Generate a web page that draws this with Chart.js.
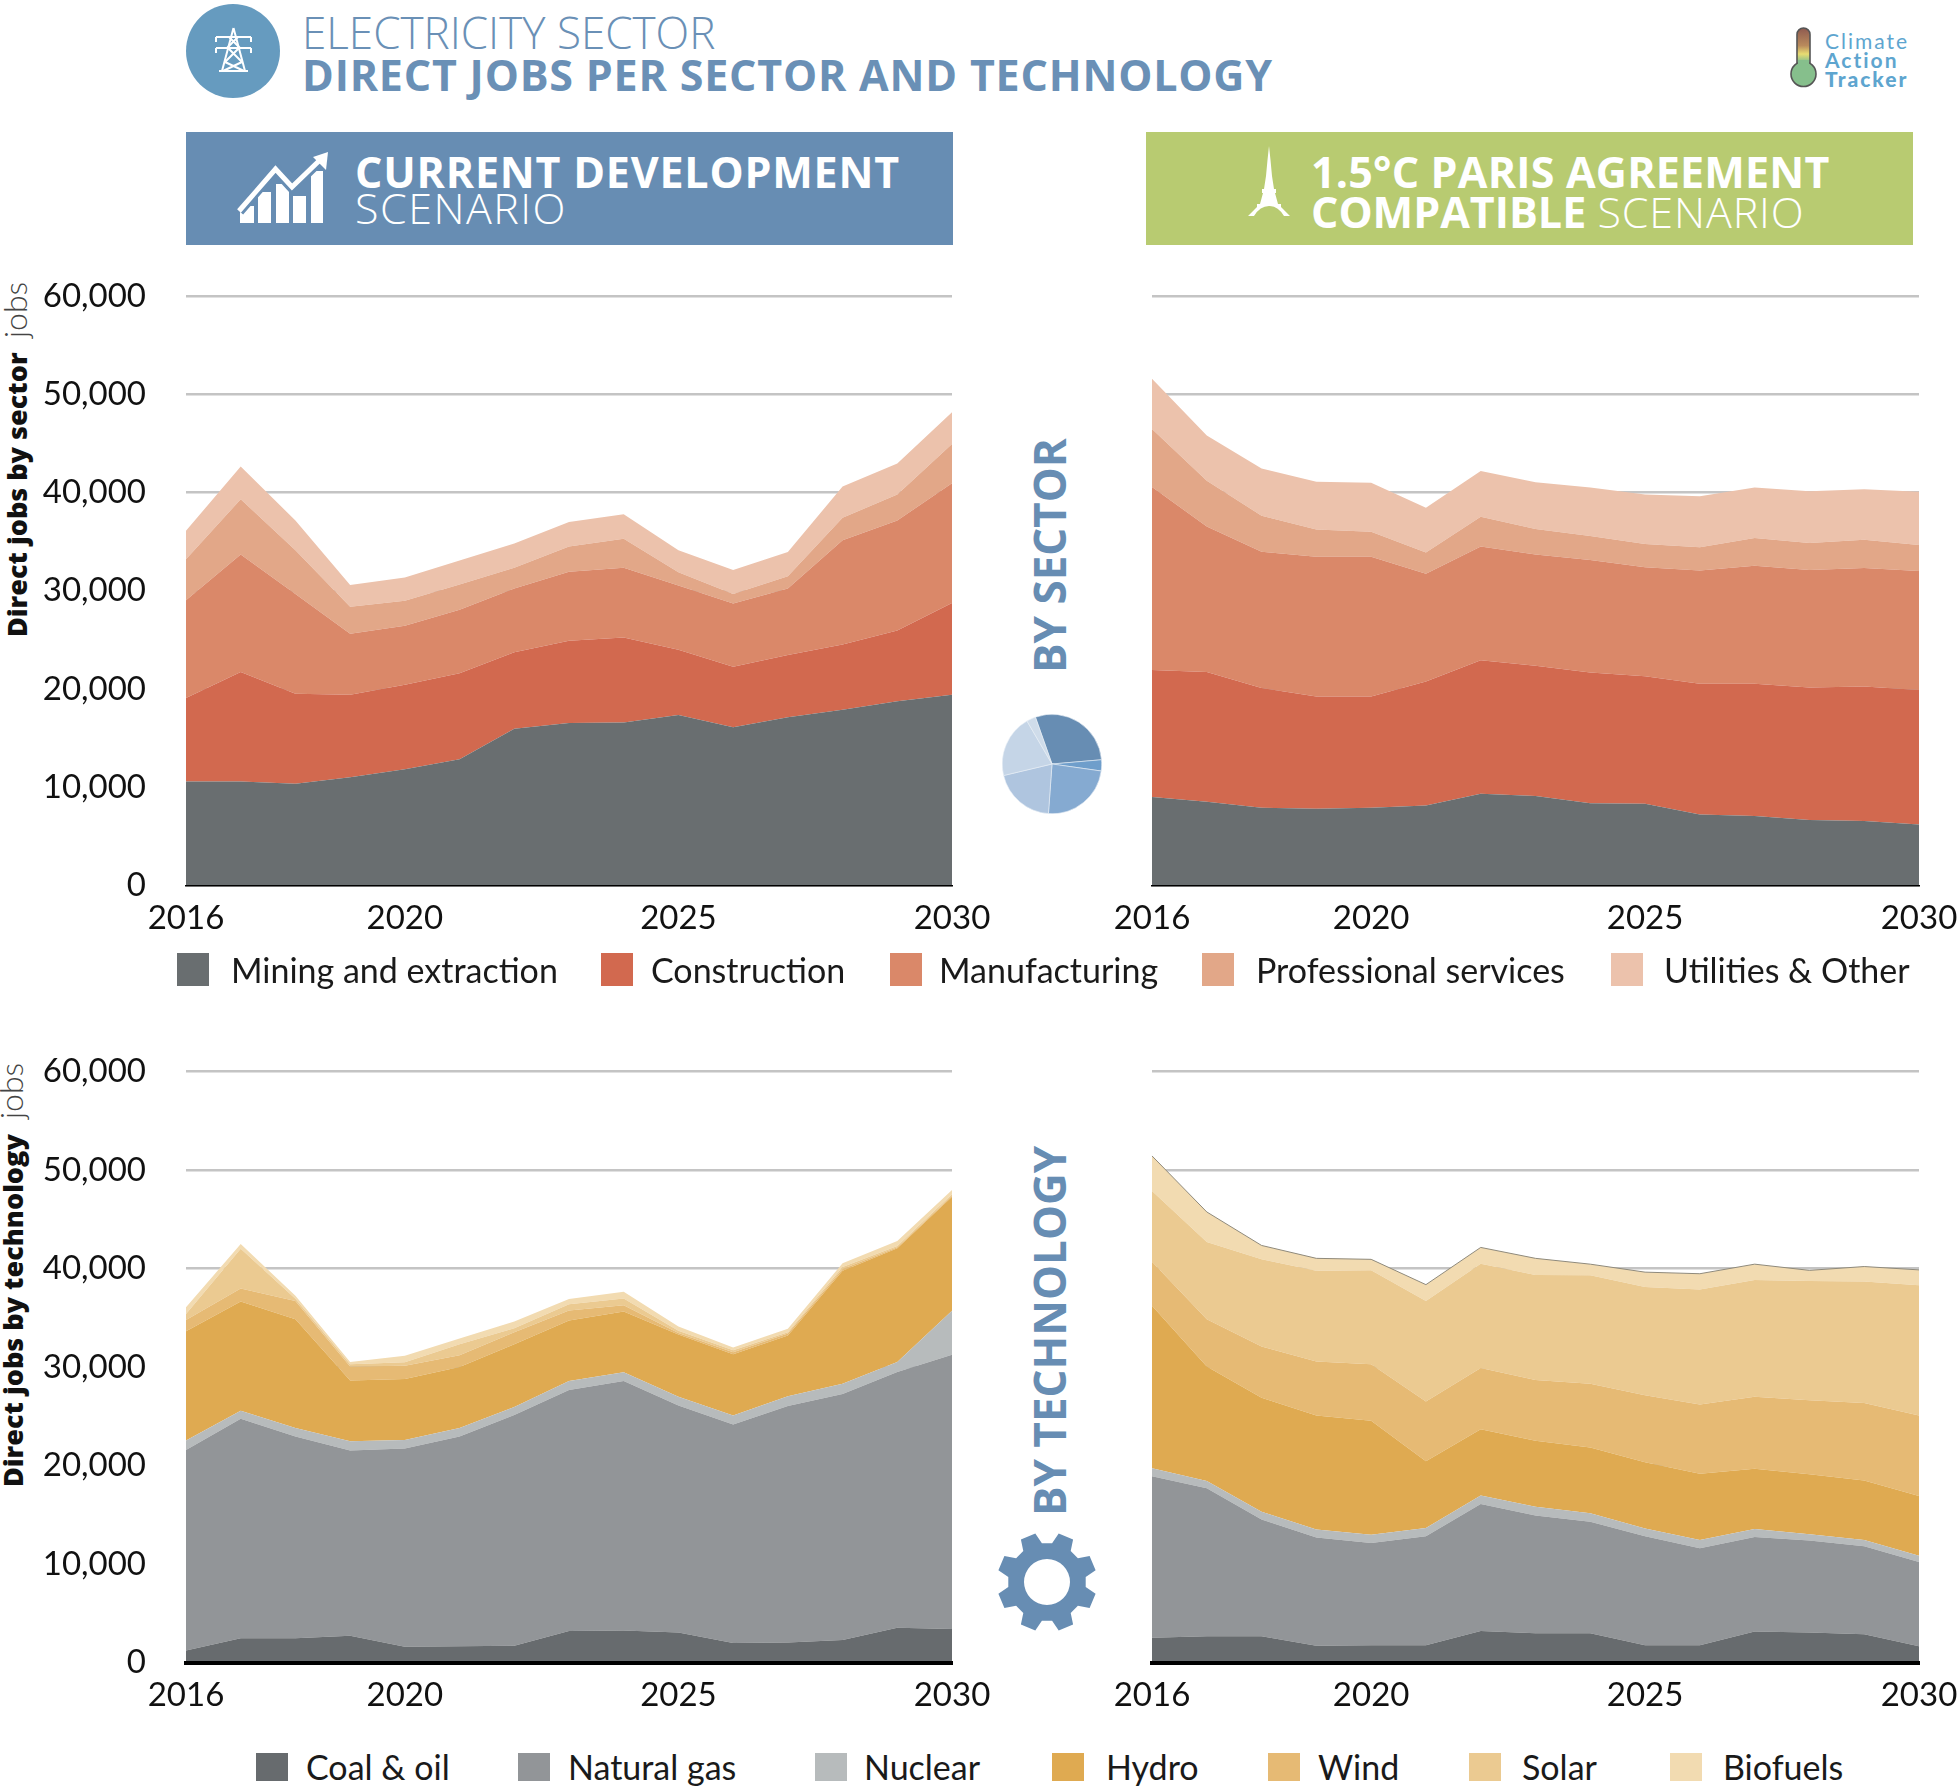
<!DOCTYPE html>
<html>
<head>
<meta charset="utf-8">
<title>Electricity sector - direct jobs</title>
<script src="https://cdn.jsdelivr.net/npm/chart.js@4"></script>
<style>
  body { margin: 0; background: #fff; }
  #page { position: relative; width: 1959px; height: 1791px; overflow: hidden; font-family: Lato, sans-serif; }
  #page > * { position: absolute; }
  canvas { display: block; }
  .txt { white-space: nowrap; line-height: 1; }
  .rot { white-space: nowrap; line-height: 1; transform-origin: 0 0; transform: rotate(-90deg); }
  .head { font-family: "Open Sans", sans-serif; color: #fff; font-size: 43px; }
  .title { font-family: "Open Sans", sans-serif; color: #6a90b6; }
  .side { font-family: "Open Sans", sans-serif; font-weight: 700; font-size: 44px; color: #678db3; }
  .swatch { width: 32px; }
  .legend { font-size: 34px; color: #1a1a1a; }
  .logo { font-size: 21px; color: #5ea5cf; letter-spacing: 2px; }
</style>
</head>
<body>
<div id="page">
  <!-- header -->
  <svg style="left:0;top:0" width="1959" height="260" viewBox="0 0 1959 260">
    <defs>
      <linearGradient id="thermo" x1="0" y1="0" x2="0" y2="1">
        <stop offset="0" stop-color="#8e5a50"/>
        <stop offset="0.35" stop-color="#b98a5c"/>
        <stop offset="0.52" stop-color="#e9dc72"/>
        <stop offset="0.68" stop-color="#86bf8c"/>
        <stop offset="1" stop-color="#86bf8c"/>
      </linearGradient>
    </defs>
    <circle cx="233" cy="51" r="47" fill="#669bbf"/>
    <!-- pylon -->
    <g stroke="#fff" stroke-width="2" fill="none">
      <path d="M233.5 28 L222 71 M233.5 28 L245 71"/>
      <path d="M216 37 H251 M216 48 H251 M219 71 H248"/>
      <path d="M216 37 V42 M251 37 V42 M216 48 V53 M251 48 V53"/>
      <path d="M229 37 L240 48 M238 37 L227 48 M228 48 L242 62 M239 48 L225 62 M225 62 L244 71 M242 62 L223 71"/>
    </g>
    <!-- blue box icon -->
    <rect x="186" y="132" width="767" height="113" fill="#678db3"/>
    <g fill="#fff">
      <rect x="240" y="206" width="14" height="17"/>
      <rect x="258" y="192" width="13" height="31"/>
      <rect x="276" y="184" width="13" height="39"/>
      <rect x="293" y="196" width="13" height="27"/>
      <rect x="311" y="171" width="12" height="52"/>
    </g>
    <path d="M239 211 L275.5 169 L292 187 L322 158" fill="none" stroke="#678db3" stroke-width="11"/>
    <path d="M239 211 L275.5 169 L292 187 L322 158" fill="none" stroke="#fff" stroke-width="5"/>
    <path d="M328 152 L313 157 L326 170 Z" fill="#fff"/>
    <!-- green box icon -->
    <rect x="1146" y="132" width="767" height="113" fill="#b8cb71"/>
    <path fill="#fff" d="M1269 146 L1270.5 160 L1272 176 L1274 189 L1276 189 L1276 193 L1275 193 L1278 204 L1281 204 L1281 207 L1283 209 L1290 216 L1284 216 Q1278 206 1269 206 Q1260 206 1254 216 L1248 216 L1255 209 L1257 207 L1257 204 L1260 204 L1263 193 L1262 193 L1262 189 L1264 189 L1266 176 L1267.5 160 Z"/>
    <!-- logo -->
    <rect x="1797" y="28" width="13" height="50" rx="6.5" fill="url(#thermo)" stroke="#555" stroke-width="1.6"/>
    <circle cx="1803.5" cy="74" r="12.5" fill="#86bf8c" stroke="#555" stroke-width="1.6"/>
    <rect x="1798" y="60" width="11" height="12" fill="#86bf8c"/>
  </svg>

  <div class="txt title" style="left:302px;top:10px;font-size:44px;font-weight:300">ELECTRICITY SECTOR</div>
  <div class="txt title" style="left:302px;top:53px;font-size:43px;font-weight:700;letter-spacing:.8px">DIRECT JOBS PER SECTOR AND TECHNOLOGY</div>

  <div class="txt head" style="left:355px;top:150px;font-weight:700;letter-spacing:.8px">CURRENT DEVELOPMENT</div>
  <div class="txt head" style="left:355px;top:186px;font-weight:300;letter-spacing:1.5px">SCENARIO</div>
  <div class="txt head" style="left:1311px;top:150px;font-weight:700;letter-spacing:.2px">1.5°C PARIS AGREEMENT</div>
  <div class="txt head" style="left:1311px;top:190px;font-weight:700">COMPATIBLE <span style="font-weight:300;letter-spacing:.9px">SCENARIO</span></div>

  <div class="txt logo" style="left:1825px;top:30px;font-weight:400">Climate</div>
  <div class="txt logo" style="left:1825px;top:49px;font-weight:700">Action</div>
  <div class="txt logo" style="left:1825px;top:68px;font-weight:900">Tracker</div>

  <!-- side labels -->
  <div class="rot" style="left:3px;top:637px;font-family:'Open Sans',sans-serif;font-size:27px;font-weight:800;color:#111">Direct jobs by sector</div>
  <div class="rot" style="left:-1px;top:338px;font-size:32px;font-weight:300;color:#444">jobs</div>
  <div class="rot" style="left:-1px;top:1487px;font-family:'Open Sans',sans-serif;font-size:27px;font-weight:800;color:#111">Direct jobs by technology</div>
  <div class="rot" style="left:-5px;top:1119px;font-size:32px;font-weight:300;color:#444">jobs</div>
  <div class="rot side" style="left:1027px;top:673px">BY SECTOR</div>
  <div class="rot side" style="left:1027px;top:1516px">BY TECHNOLOGY</div>

  <svg style="left:990px;top:1525px" width="114" height="114" viewBox="-57 -57 114 114">
    <path id="gear" fill="#678db3" fill-rule="evenodd"></path>
  </svg>

  <canvas id="chartSectorCurrent" width="1000" height="700" style="left:0;top:260px"></canvas>
  <canvas id="chartSectorParis" width="959" height="700" style="left:1000px;top:260px"></canvas>
  <canvas id="chartTechCurrent" width="1000" height="700" style="left:0;top:1040px"></canvas>
  <canvas id="chartTechParis" width="959" height="700" style="left:1000px;top:1040px"></canvas>
  <canvas id="chartPie" width="100" height="100" style="left:1002px;top:714px"></canvas>
</div>

<script>
// years on the x axis
var years = [2016, 2017, 2018, 2019, 2020, 2021, 2022, 2023, 2024, 2025, 2026, 2027, 2028, 2029, 2030];
var yearTicks = [2016, 2020, 2025, 2030];

var sectorNames = ["Mining and extraction", "Construction", "Manufacturing", "Professional services", "Utilities & Other"];
var techNames = ["Coal & oil", "Natural gas", "Nuclear", "Hydro", "Wind", "Solar", "Biofuels"];

// current development, by sector
var curMining = [10580, 10580, 10340, 11010, 11830, 12840, 15960, 16540, 16590, 17360, 16110, 17120, 17890, 18750, 19420];
var curConstruction = [8510, 11150, 9180, 8410, 8600, 8750, 7790, 8360, 8650, 6630, 6150, 6340, 6630, 7210, 9330];
var curManufacturing = [9950, 11970, 10150, 6210, 6010, 6490, 6490, 7030, 7120, 6540, 6440, 6780, 10630, 11210, 12210];
var curProfessional = [4180, 5630, 4470, 2740, 2550, 2550, 2120, 2590, 2930, 1350, 970, 1250, 2300, 2640, 4000];
var curUtilities = [2890, 3320, 3030, 2210, 2360, 2450, 2450, 2500, 2500, 2260, 2450, 2450, 3180, 3170, 3220];

// 1.5C compatible, by sector
var parMining = [8990, 8510, 7890, 7790, 7890, 8130, 9330, 9090, 8370, 8320, 7210, 7070, 6640, 6540, 6200];
var parConstruction = [12930, 13220, 12210, 11440, 11340, 12640, 13600, 13270, 13310, 12980, 13320, 13460, 13510, 13700, 13700];
var parManufacturing = [18660, 14810, 13890, 14230, 14230, 10960, 11590, 11340, 11450, 11110, 11540, 12020, 11970, 12070, 12120];
var parProfessional = [5910, 4670, 3660, 2790, 2550, 2170, 3030, 2600, 2450, 2350, 2360, 2840, 2740, 2890, 2650];
var parUtilities = [5100, 4610, 4810, 4860, 5000, 4560, 4660, 4760, 4950, 5050, 5190, 5140, 5290, 5140, 5430];

// current development, by technology
var curCoal = [1220, 2480, 2480, 2720, 1600, 1650, 1700, 3210, 3260, 3060, 1990, 2040, 2290, 3550, 3400];
var curGas = [20370, 22270, 20470, 18820, 20130, 21300, 23440, 24460, 25330, 23050, 22170, 24020, 24990, 25960, 27860];
var curNuclear = [970, 830, 870, 920, 880, 870, 820, 920, 880, 870, 930, 970, 1020, 1020, 4470];
var curHydro = [11090, 11090, 11040, 6180, 6170, 6180, 6370, 6130, 6180, 6330, 6220, 6180, 11470, 11530, 11570];
var curWind = [1120, 1310, 1850, 1410, 1360, 1210, 1220, 1020, 630, 140, 200, 190, 200, 100, 100];
var curSolar = [630, 4040, 240, 240, 340, 1120, 390, 630, 680, 240, 190, 150, 190, 140, 150];
var curBiofuels = [680, 490, 290, 240, 680, 580, 680, 540, 680, 440, 290, 340, 390, 490, 440];

// 1.5C compatible, by technology
var parCoal = [2530, 2670, 2670, 1700, 1750, 1750, 3210, 2970, 2970, 1750, 1750, 3160, 3060, 2870, 1650];
var parGas = [16380, 15030, 11870, 10990, 10400, 11090, 12880, 11960, 11320, 11090, 9870, 9580, 9340, 8950, 8560];
var parNuclear = [830, 730, 780, 830, 830, 830, 880, 880, 880, 780, 830, 830, 630, 630, 630];
var parHydro = [16480, 11620, 11570, 11570, 11570, 6760, 6710, 6710, 6660, 6710, 6710, 6120, 6080, 6030, 6080];
var parWind = [4480, 4810, 5200, 5490, 5740, 6080, 6220, 6180, 6470, 6810, 7050, 7290, 7530, 7870, 8170];
var parSolar = [7190, 7830, 8850, 9190, 9530, 10210, 10600, 10640, 11030, 10990, 11670, 11870, 12110, 12350, 13220];
var parBiofuels = [3550, 3060, 1410, 1270, 1120, 1650, 1650, 1700, 1120, 1510, 1600, 1600, 1070, 1510, 1560];

// slices of the little pie icon, in degrees
var pieSlices = [104.6, 13, 86, 72.5, 73.2, 10.7];

var sectorColors = ["#696e70", "#d2694f", "#da8869", "#e2a788", "#ecc2ac"];
var techColors = ["#676b6e", "#929598", "#b7bbbc", "#dfaa51", "#e6ba74", "#ebca91", "#f2dbb1"];
var pieColors = ["#678db3", "#6f9ecb", "#85aad1", "#afc5df", "#c5d5e7", "#cfdcea"];

var FONT = "Lato, sans-serif";

// no extra room for labels hanging over the plot edge, the plot box is fixed
function noPadding(scale) {
    scale.paddingLeft = 0;
    scale.paddingRight = 0;
    scale.paddingTop = 0;
    scale.paddingBottom = 0;
}

function makeArea(id, names, colors, series, o) {
    var datasets = [];
    for (var i = 0; i < series.length; i++) {
        var last = i === series.length - 1;
        datasets.push({
            label: names[i],
            data: series[i],
            backgroundColor: colors[i],
            borderColor: last && o.edge ? "#8f8a7c" : colors[i],
            borderWidth: last && o.edge ? 1 : 0,
            pointRadius: 0,
            tension: 0,
            fill: i === 0 ? "origin" : "-1"
        });
    }
    new Chart(document.getElementById(id), {
        type: "line",
        data: { labels: years, datasets: datasets },
        options: {
            responsive: false,
            animation: false,
            devicePixelRatio: 1,
            layout: { autoPadding: false, padding: { top: o.top, right: o.right, left: 0, bottom: 0 } },
            plugins: { legend: { display: false }, tooltip: { enabled: false } },
            scales: {
                x: {
                    grid: { display: false, drawTicks: false },
                    border: { display: true, color: "#000", width: o.axis, z: 2 },
                    afterFit: function (scale) { scale.height = o.xHeight; noPadding(scale); },
                    ticks: {
                        autoSkip: false,
                        maxRotation: 0,
                        padding: 13,
                        color: "#111",
                        font: { family: FONT, size: 33 },
                        callback: function (value) {
                            var y = years[value];
                            return yearTicks.indexOf(y) >= 0 ? String(y) : "";
                        }
                    }
                },
                y: {
                    stacked: true,
                    min: 0,
                    max: 60000,
                    grid: { color: "#c4c4c4", lineWidth: 2.5, drawTicks: false },
                    border: { display: false },
                    afterFit: function (scale) { scale.width = o.left; noPadding(scale); },
                    ticks: {
                        display: o.showY,
                        stepSize: 10000,
                        padding: 40,
                        color: "#111",
                        font: { family: FONT, size: 33 },
                        callback: function (value) { return value.toLocaleString("en-US"); }
                    }
                }
            }
        }
    });
}

makeArea("chartSectorCurrent", sectorNames, sectorColors,
    [curMining, curConstruction, curManufacturing, curProfessional, curUtilities],
    { top: 36.3, left: 186, right: 48, xHeight: 74.7, axis: 1.5, showY: true });
makeArea("chartSectorParis", sectorNames, sectorColors,
    [parMining, parConstruction, parManufacturing, parProfessional, parUtilities],
    { top: 36.3, left: 152, right: 40, xHeight: 74.7, axis: 1.5, showY: false });
makeArea("chartTechCurrent", techNames, techColors,
    [curCoal, curGas, curNuclear, curHydro, curWind, curSolar, curBiofuels],
    { top: 31.6, left: 186, right: 48, xHeight: 77.4, axis: 4, showY: true });
makeArea("chartTechParis", techNames, techColors,
    [parCoal, parGas, parNuclear, parHydro, parWind, parSolar, parBiofuels],
    { top: 31.6, left: 152, right: 40, xHeight: 77.4, axis: 4, showY: false, edge: true });

new Chart(document.getElementById("chartPie"), {
    type: "pie",
    data: { datasets: [{ data: pieSlices, backgroundColor: pieColors, borderColor: "#e8eef5", borderWidth: 0.6 }] },
    options: {
        responsive: false,
        animation: false,
        devicePixelRatio: 1,
        rotation: -19.5,
        plugins: { legend: { display: false }, tooltip: { enabled: false } }
    }
});

// legends, built as page text since the spacing is not even
function addLegend(names, colors, swatchX, textX, swatchTop, swatchH, textTop) {
    var page = document.getElementById("page");
    names.forEach(function (name, i) {
        var s = document.createElement("div");
        s.className = "swatch";
        s.style.cssText = "left:" + swatchX[i] + "px;top:" + swatchTop + "px;height:" + swatchH + "px;background:" + colors[i];
        page.appendChild(s);
        var t = document.createElement("div");
        t.className = "txt legend";
        t.textContent = name;
        t.style.cssText = "left:" + textX[i] + "px;top:" + textTop + "px";
        page.appendChild(t);
    });
}
addLegend(sectorNames, sectorColors, [177, 601, 890, 1202, 1611], [231, 651, 939, 1256, 1664], 953, 33, 953);
addLegend(techNames, techColors, [256, 518, 815, 1052, 1268, 1469, 1670], [306, 568, 864, 1106, 1318, 1522, 1723], 1753, 28, 1750);

// gear icon
var d = "";
for (var k = 0; k < 8; k++) {
    var a = 22.5 + 45 * k;
    [[39, -15], [50, -9], [50, 9], [39, 15]].forEach(function (p, j) {
        var r = (a + p[1]) * Math.PI / 180;
        d += (k === 0 && j === 0 ? "M" : "L") + (p[0] * Math.cos(r)).toFixed(1) + " " + (p[0] * Math.sin(r)).toFixed(1) + " ";
    });
}
d += "Z M23 0 A23 23 0 1 0 -23 0 A23 23 0 1 0 23 0 Z";
document.getElementById("gear").setAttribute("d", d);
</script>
</body>
</html>
